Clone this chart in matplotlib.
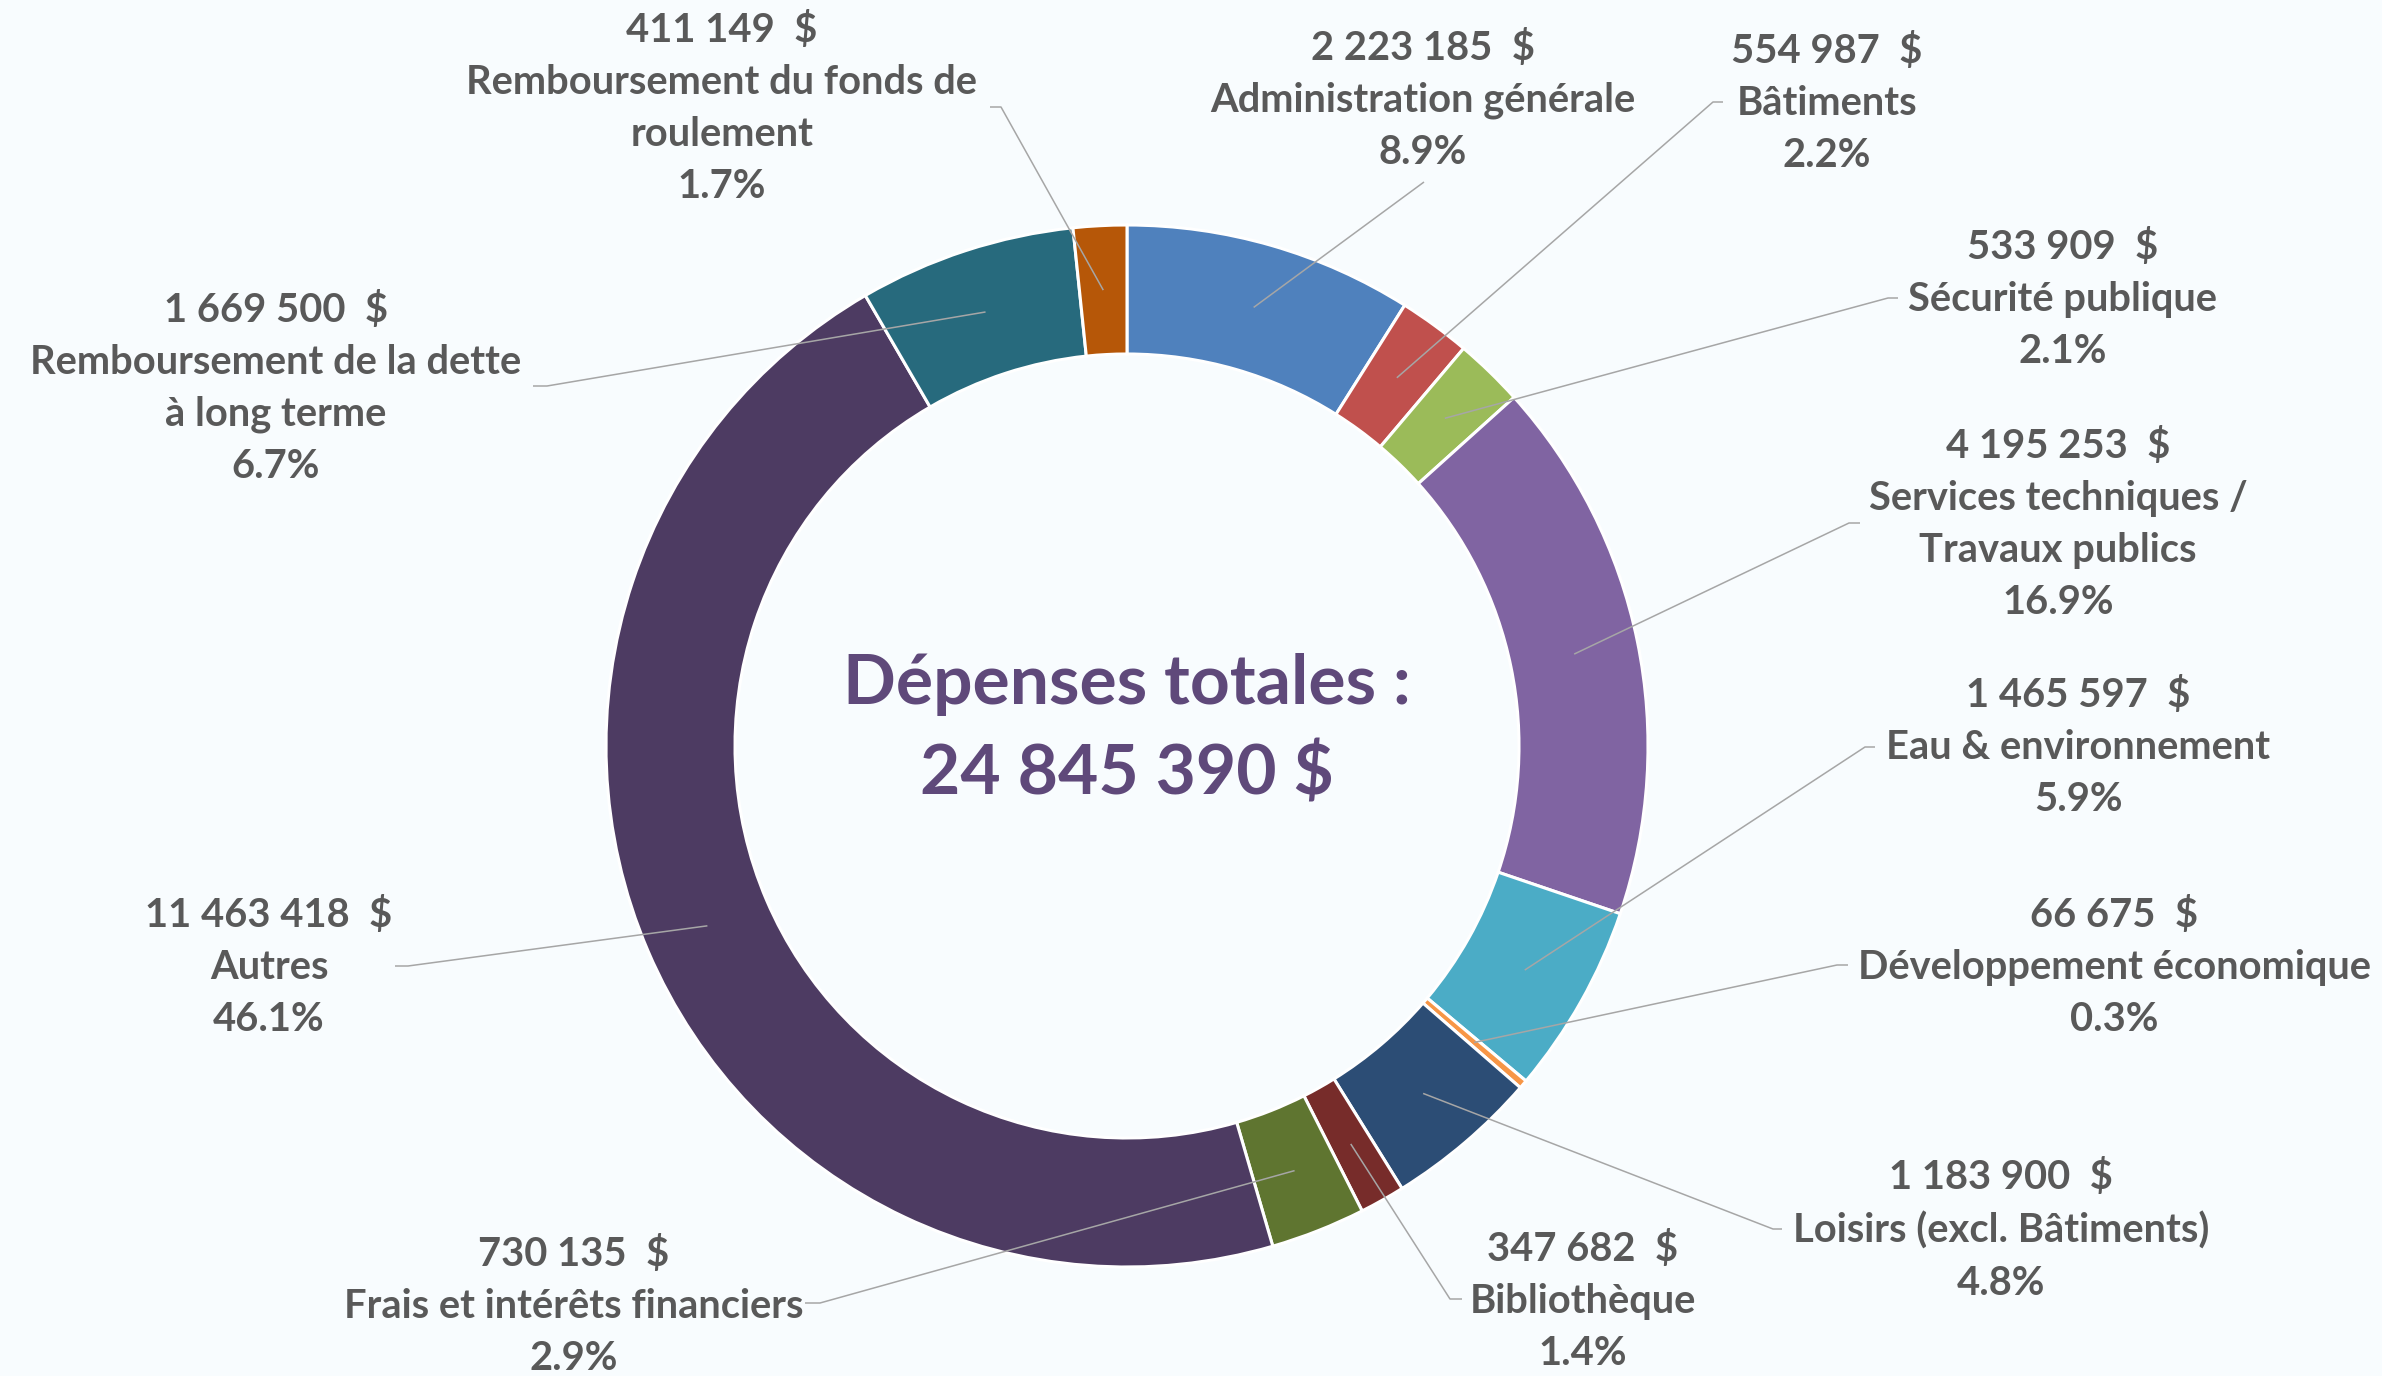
import numpy as np
import matplotlib
matplotlib.use("Agg")
import matplotlib.pyplot as plt

# Dépenses par fonction (sens horaire à partir de midi)
categories = [
    "Administration générale",
    "Bâtiments",
    "Sécurité publique",
    "Services techniques /\nTravaux publics",
    "Eau & environnement",
    "Développement économique",
    "Loisirs (excl. Bâtiments)",
    "Bibliothèque",
    "Frais et intérêts financiers",
    "Autres",
    "Remboursement de la dette\nà long terme",
    "Remboursement du fonds de\nroulement",
]
values = [2223185, 554987, 533909, 4195253, 1465597, 66675,
          1183900, 347682, 730135, 11463418, 1669500, 411149]
colors = ["#4F81BD", "#C0504D", "#9BBB59", "#8064A2", "#4BACC6", "#F79646",
          "#2C4D75", "#772C2A", "#5F7530", "#4D3B62", "#276A7D", "#B65708"]

total = sum(values)

# layout in pixel coords (top-down): label centre, leader elbow, leader end
label_xy = [(1423, 100), (1827, 103), (2063, 299), (2058, 524), (2078, 747),
            (2114, 967), (2001, 1230), (1583, 1301), (574, 1306), (269, 967),
            (276, 388), (722, 108)]
elbow_xy = [(1424, 182), (1713, 102), (1888, 298), (1849, 523), (1865, 747),
            (1837, 965), (1773, 1229), (1450, 1299), (820, 1303), (408, 966),
            (547, 386), (1001, 107)]
end_xy = [None, (1723, 102), (1898, 298), (1860, 523), (1875, 747),
          (1848, 965), (1782, 1229), (1462, 1299), (805, 1303), (395, 966),
          (533, 386), (990, 107)]

W, H = 2382, 1376
cx, cy = 1127, 746
R_out, R_in = 521, 392


def fy(y):
    return H - y


bg = "#F8FCFE"
fig = plt.figure(figsize=(W / 100, H / 100), dpi=100, facecolor=bg)
ax = fig.add_axes([0, 0, 1, 1])
ax.set_facecolor(bg)

wedges, _ = ax.pie(values, colors=colors, startangle=90, counterclock=False,
                   radius=R_out, center=(cx, fy(cy)),
                   wedgeprops=dict(width=R_out - R_in, edgecolor="white", linewidth=2.2))
ax.set_xlim(0, W)
ax.set_ylim(0, H)
ax.set_aspect("equal")
ax.axis("off")

font = "Lato"
txt_color = "#595959"
line_color = "#A6A6A6"
r_mid = (R_out + R_in) / 2

for i, w in enumerate(wedges):
    ang = np.deg2rad((w.theta1 + w.theta2) / 2)
    ax0 = cx + r_mid * np.cos(ang)
    ay0 = fy(cy) + r_mid * np.sin(ang)
    xs = [ax0, elbow_xy[i][0]]
    ys = [ay0, fy(elbow_xy[i][1])]
    if end_xy[i] is not None:
        xs.append(end_xy[i][0])
        ys.append(fy(end_xy[i][1]))
    ax.plot(xs, ys, color=line_color, lw=1.1, solid_capstyle="butt")

    amount = f"{values[i]:,}".replace(",", " ") + "  $"
    pct = f"{values[i] / total * 100:.1f}%"
    label = f"{amount}\n{categories[i]}\n{pct}"
    ax.text(label_xy[i][0], fy(label_xy[i][1]), label, ha="center", va="center",
            fontsize=28.7, fontweight="bold", family=font, color=txt_color,
            linespacing=1.5)

total_txt = f"{total:,}".replace(",", " ") + " $"
ax.text(cx, fy(730), "Dépenses totales :\n" + total_txt, ha="center", va="center",
        fontsize=50, fontweight="bold", family=font, color="#5F497A",
        linespacing=1.5)

fig.savefig("out.png", dpi=100, facecolor=bg)
